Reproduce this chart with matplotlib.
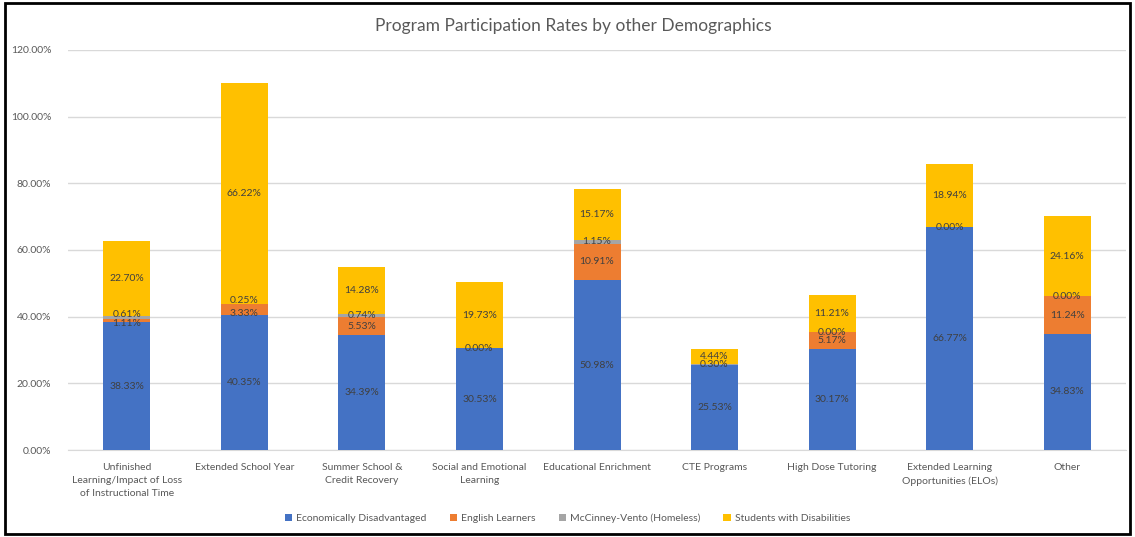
import numpy as np
import matplotlib
matplotlib.use("Agg")
import matplotlib.pyplot as plt
from matplotlib.patches import Rectangle

plt.rcParams['font.family'] = ['Lato', 'DejaVu Sans']

programs = ["Unfinished\nLearning/Impact of Loss\nof Instructional Time",
            "Extended School Year",
            "Summer School &\nCredit Recovery",
            "Social and Emotional\nLearning",
            "Educational Enrichment",
            "CTE Programs",
            "High Dose Tutoring",
            "Extended Learning\nOpportunities (ELOs)",
            "Other"]

# None = no entry for that group
econ_disadv = [38.33, 40.35, 34.39, 30.53, 50.98, 25.53, 30.17, 66.77, 34.83]
english_learners = [1.11, 3.33, 5.53, None, 10.91, None, 5.17, None, 11.24]
homeless = [0.61, 0.25, 0.74, 0.00, 1.15, 0.30, 0.00, 0.00, 0.00]
disabilities = [22.70, 66.22, 14.28, 19.73, 15.17, 4.44, 11.21, 18.94, 24.16]

series = [("Economically Disadvantaged", econ_disadv, "#4472C4", 0),
          ("English Learners", english_learners, "#ED7D31", -2.5),
          ("McCinney-Vento (Homeless)", homeless, "#A5A5A5", 2.5),
          ("Students with Disabilities", disabilities, "#FFC000", 0)]

fig = plt.figure(figsize=(11.35, 5.37), dpi=100)
ax = fig.add_axes([0.060, 0.162, 0.932, 0.745])

x = np.arange(len(programs))
# bars where the orange and grey pieces are both thin get their labels spread
both_thin = [e is not None and 0 < e < 4 and h < 2 for e, h in zip(english_learners, homeless)]

bottom = np.zeros(len(programs))
for name, vals, color, nudge in series:
    vals = np.array([np.nan if v is None else v for v in vals], dtype=float)
    ax.bar(x, np.nan_to_num(vals), 0.4, bottom=bottom, color=color, label=name, zorder=3)
    for xi, b, v in zip(x, bottom, vals):
        if np.isnan(v):
            continue
        dy = nudge if both_thin[xi] else 0
        ax.annotate(f"{v:.2f}%", (xi, b + v / 2), xytext=(0, dy),
                    textcoords='offset points', ha='center', va='center',
                    fontsize=7.5, color='#404040', zorder=4)
    bottom += np.nan_to_num(vals)

ax.set_ylim(0, 120)
ax.set_xlim(-0.5, len(programs) - 0.5)
ax.set_yticks(np.arange(0, 121, 20))
ax.set_yticklabels([f"{v:.2f}%" for v in range(0, 121, 20)])
ax.set_xticks(x)
ax.set_xticklabels(programs, fontsize=7.5, color='#595959', linespacing=1.6)
ax.tick_params(axis='y', labelsize=7.5, labelcolor='#595959', length=0, pad=12)
ax.tick_params(axis='x', length=0, pad=9)
ax.grid(axis='y', color='#D9D9D9', linewidth=1, zorder=0)
for s in ['top', 'right', 'left']:
    ax.spines[s].set_visible(False)
ax.spines['bottom'].set_color('#D9D9D9')

fig.text(0.505, 0.952, "Program Participation Rates by other Demographics",
         ha='center', va='center', fontsize=12.5, color='#595959')

fig.legend(loc='center', bbox_to_anchor=(0.5, 0.035), ncol=4, frameon=False,
           fontsize=7.5, handlelength=0.7, handleheight=0.7, handletextpad=0.4,
           columnspacing=2.2, labelcolor='#595959')

fig.patches.append(Rectangle((0.004, 0.006), 0.992, 0.988, transform=fig.transFigure,
                             fill=False, edgecolor='black', linewidth=2))

fig.savefig("out.png", dpi=100)
